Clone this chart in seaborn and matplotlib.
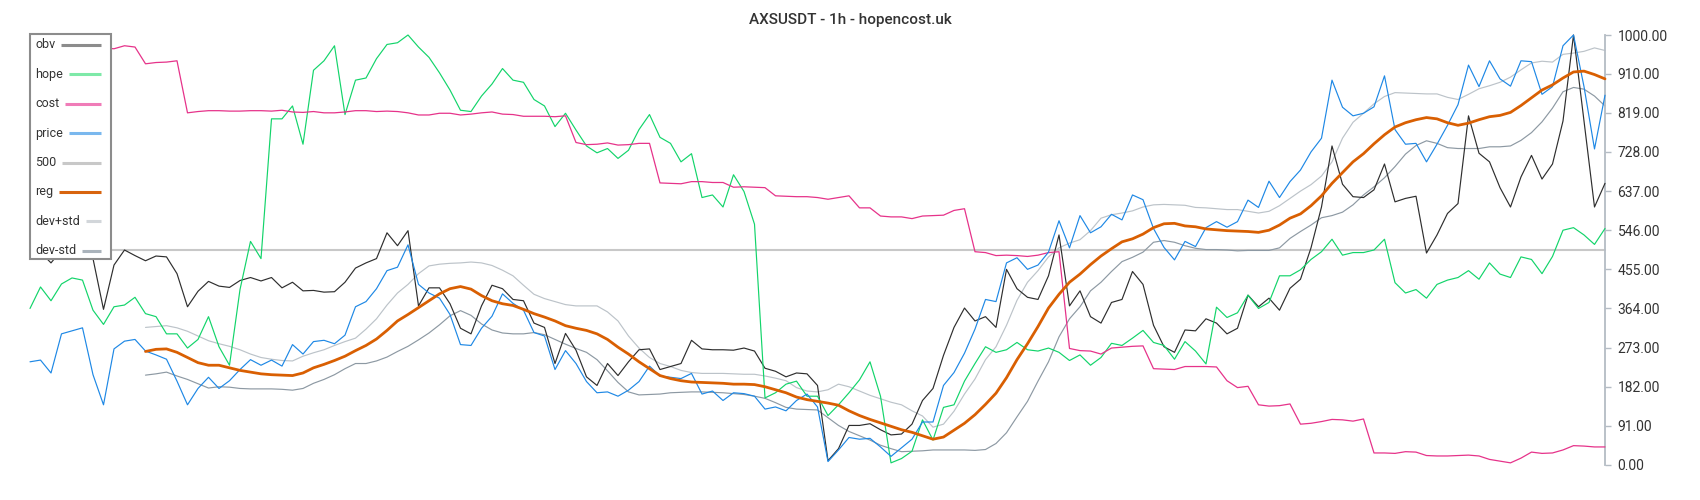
import numpy as np
import matplotlib
matplotlib.use("Agg")
import matplotlib.pyplot as plt
from matplotlib.lines import Line2D
from matplotlib.patches import Rectangle
import seaborn as sns

TITLE = "AXSUSDT - 1h - hopencost.uk"
Y_TICKS = [0, 91, 182, 273, 364, 455, 546, 637, 728, 819, 910, 1000]
LEVEL = 500
REG_START = 11

price = [240, 244, 214, 305, 312, 319, 210, 140, 270, 288, 292, 265, 256, 246, 195, 140, 178, 204, 178, 196, 222, 245, 232, 244,
         230, 280, 258, 287, 290, 282, 302, 368, 380, 410, 452, 460, 512, 420, 400, 388, 350, 280, 278, 318, 346, 398, 376, 360, 308,
         300, 222, 266, 236, 194, 168, 170, 160, 174, 194, 230, 207, 204, 201, 213, 165, 172, 150, 168, 166, 160, 130, 135, 126,
         150, 165, 135, 8, 35, 64, 60, 62, 42, 20, 40, 60, 100, 100, 185, 215, 260, 316, 385, 380, 470, 482, 455, 465,
         495, 568, 505, 580, 540, 554, 583, 570, 628, 617, 550, 506, 477, 520, 508, 552, 566, 553, 566, 616, 599, 660, 622, 659,
         686, 728, 760, 895, 832, 812, 818, 833, 905, 780, 746, 748, 705, 746, 790, 838, 930, 880, 940, 898, 881, 940, 938, 862, 880,
         975, 1000, 880, 735, 860]

obv = [505, 495, 470, 500, 510, 505, 480, 362, 465, 500, 487, 475, 486, 484, 445, 368, 404, 427, 416, 413, 429, 436, 428, 436,
       412, 425, 405, 406, 402, 403, 425, 458, 470, 480, 540, 510, 545, 370, 412, 412, 375, 318, 305, 370, 418, 410, 385, 382, 330,
       320, 236, 306, 267, 205, 185, 236, 208, 240, 268, 270, 222, 229, 236, 290, 270, 268, 268, 267, 272, 265, 225, 218, 205,
       214, 212, 185, 10, 38, 92, 92, 96, 82, 70, 72, 95, 150, 178, 255, 320, 365, 335, 345, 320, 455, 410, 390, 385,
       440, 535, 370, 405, 345, 330, 378, 385, 450, 420, 325, 275, 262, 314, 312, 340, 330, 305, 318, 395, 368, 388, 360, 411,
       432, 505, 600, 742, 653, 624, 622, 640, 700, 612, 620, 625, 493, 535, 585, 608, 812, 725, 705, 645, 600, 670, 720, 665, 700,
       800, 1000, 800, 600, 655]

hope = [364, 414, 382, 421, 435, 430, 360, 327, 368, 372, 390, 352, 345, 305, 305, 272, 292, 345, 275, 232, 408, 520, 480, 805,
        805, 835, 746, 918, 940, 975, 815, 895, 900, 945, 978, 982, 1000, 972, 948, 912, 872, 825, 822, 858, 886, 922, 895, 890, 850,
        835, 787, 818, 779, 742, 726, 736, 713, 732, 780, 815, 762, 748, 705, 724, 622, 628, 600, 675, 636, 560, 156, 168, 188,
        195, 160, 160, 115, 140, 168, 198, 240, 160, 5, 15, 32, 105, 58, 134, 140, 195, 236, 275, 262, 268, 285, 268, 265,
        272, 262, 243, 256, 232, 250, 283, 278, 295, 313, 285, 278, 246, 287, 265, 235, 367, 343, 354, 395, 364, 378, 440, 440,
        454, 478, 496, 525, 488, 494, 494, 500, 525, 424, 400, 408, 388, 420, 430, 436, 452, 432, 470, 444, 436, 484, 478, 445, 485,
        546, 552, 535, 513, 550]

cost = [960, 962, 965, 968, 970, 966, 968, 970, 968, 975, 972, 933, 936, 937, 940, 819, 822, 824, 824, 823, 823, 824, 824, 823,
        825, 821, 820, 822, 819, 819, 821, 824, 824, 822, 823, 822, 819, 814, 814, 818, 818, 814, 816, 819, 821, 816, 815, 811, 811,
        811, 810, 812, 750, 745, 746, 749, 744, 745, 748, 748, 656, 655, 654, 659, 659, 657, 657, 646, 647, 646, 645, 626, 625,
        624, 624, 622, 618, 622, 626, 598, 598, 579, 577, 577, 573, 579, 580, 581, 592, 596, 496, 494, 487, 488, 487, 485, 488,
        494, 496, 271, 266, 265, 258, 272, 274, 276, 277, 224, 223, 222, 229, 229, 229, 228, 196, 180, 183, 140, 137, 138, 142,
        95, 97, 101, 106, 105, 102, 107, 28, 28, 27, 31, 30, 22, 21, 21, 22, 23, 21, 13, 9, 5, 16, 30, 27, 28,
        35, 45, 44, 42, 42]

reg = [264, 269, 270, 262, 250, 238, 232, 232, 226, 220, 216, 212, 210,
       209, 208, 214, 226, 234, 243, 253, 266, 278, 293, 313, 335, 350, 366, 382, 398, 410, 415, 409, 394, 382, 375, 371, 362, 352,
       344, 335, 324, 318, 313, 305, 292, 274, 258, 240, 224, 208, 201, 196, 193, 192, 191, 190, 188, 188, 187, 182, 175, 168,
       158, 152, 148, 144, 139, 126, 115, 106, 98, 90, 82, 76, 68, 60, 65, 81, 97, 117, 141, 167, 203, 245, 282, 322,
       365, 397, 425, 444, 466, 486, 503, 519, 526, 537, 552, 561, 562, 556, 554, 549, 547, 545, 544, 543, 541, 546, 558, 574,
       584, 603, 626, 655, 680, 705, 724, 747, 768, 786, 796, 803, 808, 805, 796, 790, 795, 803, 810, 813, 820, 836, 854, 872, 884,
       900, 914, 916, 908, 898]

dev_plus = [320, 322, 324, 319, 311, 300, 289, 282, 276, 268, 258, 250, 246,
            243, 242, 253, 261, 268, 278, 287, 295, 316, 340, 372, 400, 420, 445, 463, 467, 469, 470, 472, 470, 464, 453, 440, 418, 397,
            387, 380, 373, 370, 370, 370, 356, 335, 300, 272, 250, 236, 229, 220, 215, 213, 213, 213, 212, 211, 211, 207, 202, 196,
            180, 172, 170, 175, 188, 182, 172, 162, 154, 146, 140, 126, 114, 88, 95, 125, 165, 200, 245, 275, 325, 383, 425, 452,
            484, 505, 516, 524, 545, 574, 582, 586, 591, 600, 605, 606, 605, 604, 599, 598, 596, 594, 594, 590, 586, 590, 603, 620,
            637, 652, 672, 705, 760, 797, 818, 840, 857, 866, 865, 864, 863, 863, 855, 850, 862, 875, 882, 890, 902, 919, 935, 939, 937,
            955, 958, 962, 970, 964]

dev_minus = [209, 212, 216, 207, 199, 189, 179, 182, 181, 178, 177, 177, 177,
             176, 174, 178, 190, 199, 210, 224, 236, 236, 242, 251, 264, 276, 291, 307, 326, 347, 359, 348, 328, 314, 307, 305, 305, 308,
             303, 292, 281, 271, 262, 245, 219, 192, 170, 163, 164, 165, 168, 169, 170, 170, 169, 168, 166, 164, 160, 155, 145, 134,
             130, 129, 128, 110, 92, 78, 68, 58, 46, 38, 31, 32, 33, 35, 35, 35, 35, 34, 36, 50, 75, 112, 148, 195,
             240, 298, 340, 368, 405, 425, 450, 473, 483, 495, 518, 522, 518, 510, 504, 501, 501, 500, 498, 499, 499, 499, 505, 527,
             543, 558, 575, 580, 588, 605, 628, 647, 668, 694, 723, 743, 754, 748, 738, 736, 736, 736, 740, 740, 742, 755, 773, 798, 830,
             868, 878, 874, 858, 835]

LABELS = ["obv", "hope", "cost", "price", "500", "reg", "dev+std", "dev-std"]
LINE_COLORS = ["#2e2e2e", "#12d46a", "#e6338a", "#1e88e5", "#c8c8c8", "#d95f02", "#bcc3c9", "#8d99a3"]
LEGEND_COLORS = ["#8c8c8c", "#7ee9a8", "#f07cb8", "#7ab8ee", "#c8c8c8", "#d8640e", "#d2d6da", "#aab3bb"]

sns.set_style("white")
plt.rcParams['font.family'] = ['Roboto', 'DejaVu Sans']

W, H = 1700, 500
fig = plt.figure(figsize=(W / 100, H / 100), dpi=100)


def fx(px):
    return px / W


def fy(py):
    return 1 - py / H


ax = fig.add_axes([fx(30), fy(465), fx(1605) - fx(30), fy(35) - fy(465)])

n = len(price)
x_full = np.arange(n)
x_reg = np.arange(REG_START, REG_START + len(reg))

ax.axhline(LEVEL, color=LINE_COLORS[4], lw=1.5, zorder=1)
sns.lineplot(x=x_full, y=obv, ax=ax, color=LINE_COLORS[0], lw=0.85, zorder=3)
sns.lineplot(x=x_full, y=hope, ax=ax, color=LINE_COLORS[1], lw=0.85, zorder=3)
sns.lineplot(x=x_full, y=cost, ax=ax, color=LINE_COLORS[2], lw=0.9, zorder=3)
sns.lineplot(x=x_full, y=price, ax=ax, color=LINE_COLORS[3], lw=0.85, zorder=3)
sns.lineplot(x=x_reg, y=reg, ax=ax, color=LINE_COLORS[5], lw=2.0, zorder=4)
sns.lineplot(x=x_reg, y=dev_plus, ax=ax, color=LINE_COLORS[6], lw=0.85, zorder=2)
sns.lineplot(x=x_reg, y=dev_minus, ax=ax, color=LINE_COLORS[7], lw=0.85, zorder=2)

for ln in ax.lines:
    ln.set_clip_on(False)

ax.set_xlim(0, n - 1)
ax.set_ylim(0, 1000)
ax.set_xticks([])
ax.set_xlabel("")
ax.set_ylabel("")
for s in ["left", "top", "bottom"]:
    ax.spines[s].set_visible(False)
ax.spines["right"].set_visible(True)
ax.spines["right"].set_color("#b4bcc4")
ax.spines["right"].set_linewidth(1.3)
ax.yaxis.tick_right()
ax.set_yticks(Y_TICKS)
ax.set_yticklabels([f"{v:.2f}" for v in Y_TICKS])
ax.tick_params(axis="y", direction="out", length=4, width=1.0, color="#b4bcc4",
               labelsize=10, labelcolor="#333333", pad=5)
ax.set_facecolor("white")

fig.text(0.5, fy(20), TITLE, ha="center", va="center", fontsize=11,
         color="#333333", fontweight="medium")

# legend box
box = Rectangle((fx(30), fy(259)), fx(111) - fx(30), fy(34) - fy(259),
                transform=fig.transFigure, facecolor="white", edgecolor="#8c8c8c",
                lw=1.5, zorder=10)
fig.add_artist(box)
texts = []
row_y = [45 + k * 29.4 for k in range(len(LABELS))]
for lab, yy in zip(LABELS, row_y):
    t = fig.text(fx(35), fy(yy), lab, ha="left", va="center", fontsize=9,
                 color="#333333", zorder=11)
    texts.append(t)
fig.canvas.draw()
renderer = fig.canvas.get_renderer()
for t, yy, c in zip(texts, row_y, LEGEND_COLORS):
    bb = t.get_window_extent(renderer)
    x0 = bb.x1 + 6
    fig.add_artist(Line2D([fx(x0), fx(100.5)], [fy(yy), fy(yy)], transform=fig.transFigure,
                          color=c, lw=2.2, zorder=11, solid_capstyle="butt"))

fig.savefig("out.png", dpi=100, facecolor="white")
